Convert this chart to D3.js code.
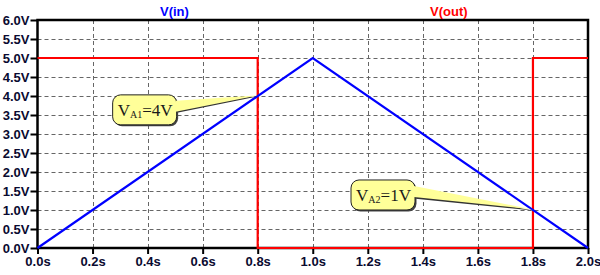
<!DOCTYPE html>
<html>
<head>
<meta charset="utf-8">
<script src="https://cdn.jsdelivr.net/npm/d3@7"></script>
<style>
  body { margin: 0; background: #fff; }
  svg { display: block; }
</style>
</head>
<body>
<svg width="600" height="275"></svg>
<script>
(function () {

  // data
  const vinTimes = [0, 1.0, 2.0];
  const vinValues = [0, 5, 0];
  const voutTimes = [0, 0.8, 0.8, 1.8, 1.8, 2.0];
  const voutValues = [5, 5, 0, 0, 5, 5];
  const xTicks = [0, 0.2, 0.4, 0.6, 0.8, 1.0, 1.2, 1.4, 1.6, 1.8, 2.0];
  const yTicks = [0, 0.5, 1, 1.5, 2, 2.5, 3, 3.5, 4, 4.5, 5, 5.5, 6];
  // callouts: point (t, v) and box top-left corner (bt, bv) in data units
  const notes = [
    { sub: "A1", val: "=4V", t: 0.8, v: 4, bt: 0.273, bv: 4.03 },
    { sub: "A2", val: "=1V", t: 1.8, v: 1, bt: 1.139, bv: 1.79 }
  ];

  const svg = d3.select("svg");
  const m = { left: 37.5, right: 588, top: 20, bottom: 248 };

  const x = d3.scaleLinear().domain([0, 2]).range([m.left, m.right]);
  const y = d3.scaleLinear().domain([0, 6]).range([m.bottom, m.top]);

  // grid
  const grid = svg.append("g")
    .attr("stroke", "#666")
    .attr("stroke-width", 1)
    .attr("stroke-dasharray", "4,3");
  grid.selectAll(".gx").data(xTicks.slice(1, -1)).enter().append("line")
    .attr("x1", d => Math.round(x(d)) + 0.5).attr("x2", d => Math.round(x(d)) + 0.5)
    .attr("y1", m.top).attr("y2", m.bottom);
  grid.selectAll(".gy").data(yTicks.slice(1, -1)).enter().append("line")
    .attr("y1", d => Math.round(y(d)) + 0.5).attr("y2", d => Math.round(y(d)) + 0.5)
    .attr("x1", m.left).attr("x2", m.right);

  // axes
  const xAxis = d3.axisBottom(x).tickValues(xTicks)
    .tickFormat(d => d.toFixed(1) + "s").tickSize(6).tickPadding(3);
  const yAxis = d3.axisLeft(y).tickValues(yTicks)
    .tickFormat(d => d.toFixed(1) + "V").tickSize(7).tickPadding(1);

  const gx = svg.append("g").attr("transform", `translate(0,${m.bottom})`).call(xAxis);
  const gy = svg.append("g").attr("transform", `translate(${m.left},0)`).call(yAxis);
  [gx, gy].forEach(g => {
    g.select(".domain").remove();
    g.selectAll(".tick line").attr("stroke", "#000").attr("stroke-width", 2);
    g.selectAll("text")
      .attr("fill", "#0a0a30")
      .style("font-family", "Arial, 'Liberation Sans', sans-serif")
      .style("font-weight", "bold")
      .style("font-size", "13px");
  });
  gy.selectAll("text").attr("dy", "0.36em");

  // frame
  svg.append("rect")
    .attr("x", m.left).attr("y", m.top)
    .attr("width", m.right - m.left).attr("height", m.bottom - m.top)
    .attr("fill", "none").attr("stroke", "#000").attr("stroke-width", 2.5);

  const line = d3.line().x(d => x(d[0])).y(d => y(d[1]));

  svg.append("path")
    .datum(d3.zip(voutTimes, voutValues))
    .attr("d", line).attr("fill", "none")
    .attr("stroke", "#ff0000").attr("stroke-width", 2.2);

  svg.append("path")
    .datum(d3.zip(vinTimes, vinValues))
    .attr("d", line).attr("fill", "none")
    .attr("stroke", "#0000ff").attr("stroke-width", 2.2);

  // legend labels
  const legend = svg.append("g")
    .style("font-family", "Arial, 'Liberation Sans', sans-serif")
    .style("font-weight", "bold").style("font-size", "13px");
  legend.append("text").attr("x", 160).attr("y", 16).attr("fill", "#0000ff").text("V(in)");
  legend.append("text").attr("x", 430).attr("y", 16).attr("fill", "#ff0000").text("V(out)");

  // callouts
  const bw = 64, bh = 30;
  notes.forEach(n => {
    const px = x(n.t), py = y(n.v);
    const bx = x(n.bt), by = y(n.bv);
    const g = svg.append("g");
    const right = bx + bw;
    const ty1 = by + 6, ty2 = by + 17;
    // shadow
    g.append("path")
      .attr("d", `M${right - 2},${ty1 + 1.5} L${px},${py + 0.5} L${right - 2},${ty2 + 1.5} Z`)
      .attr("fill", "#333");
    g.append("rect")
      .attr("x", bx + 1.5).attr("y", by + 1.5).attr("width", bw).attr("height", bh)
      .attr("rx", 8).attr("fill", "#444");
    g.append("rect")
      .attr("x", bx).attr("y", by).attr("width", bw).attr("height", bh)
      .attr("rx", 8).attr("fill", "#ffff99").attr("stroke", "#222").attr("stroke-width", 1);
    g.append("path")
      .attr("d", `M${right - 1},${ty1} L${px},${py - 0.5} L${right - 1},${ty2} Z`)
      .attr("fill", "#ffff99");
    const t = g.append("text")
      .attr("x", bx + 5).attr("y", by + 21)
      .attr("fill", "#1a1a1a")
      .attr("textLength", 55).attr("lengthAdjust", "spacingAndGlyphs")
      .style("font-family", "'Times New Roman', 'Liberation Serif', serif")
      .style("font-size", "17px");
    t.append("tspan").text("V");
    t.append("tspan").attr("dy", 2).style("font-size", "10px").text(n.sub);
    t.append("tspan").attr("dy", -2).text(n.val);
  });

}());
</script>
</body>
</html>
